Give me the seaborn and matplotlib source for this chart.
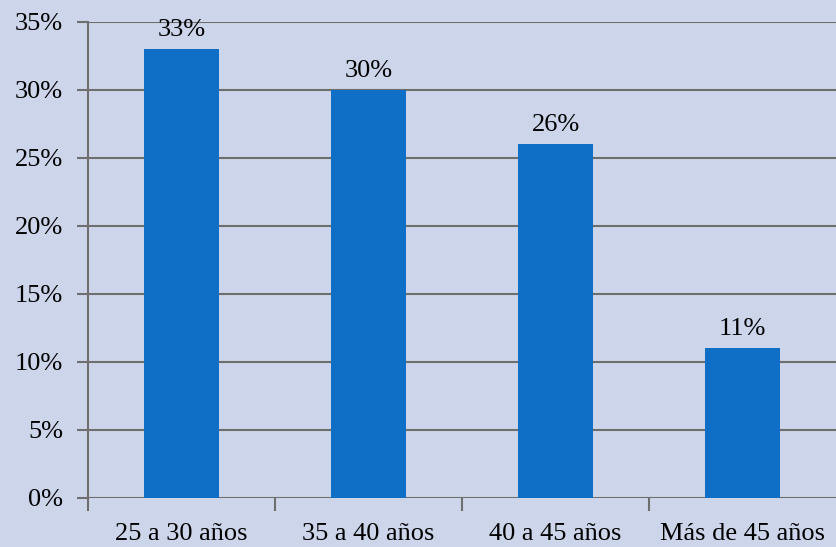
import matplotlib
matplotlib.use("Agg")
import matplotlib.pyplot as plt
import seaborn as sns
import pandas as pd
from matplotlib.ticker import FixedLocator, FuncFormatter

# datos
grupos = ['25 a 30 años', '35 a 40 años', '40 a 45 años', 'Más de 45 años']
valores = [0.33, 0.30, 0.26, 0.11]
etiquetas = ['33%', '30%', '26%', '11%']

df = pd.DataFrame({'grupo': grupos, 'valor': valores})

sns.set_style('white')
plt.rcParams['font.family'] = ['Liberation Serif', 'DejaVu Serif']

fondo = '#CDD5EA'
gris = '#6E6E6E'

fig = plt.figure(figsize=(8.36, 5.47), dpi=100, facecolor=fondo)
ax = fig.add_axes([0.1053, 0.0896, 0.8947, 0.8702])
ax.set_facecolor(fondo)

sns.barplot(data=df, x='grupo', y='valor', color='#0F6FC6', width=0.4,
            saturation=1, linewidth=0, ax=ax, zorder=3)

ax.set_ylim(0, 0.35)
ax.set_xlim(-0.5, 3.5)
ax.set_yticks([0, 0.05, 0.10, 0.15, 0.20, 0.25, 0.30, 0.35])
ax.yaxis.set_major_formatter(FuncFormatter(lambda v, p: f'{round(v*100)}%'))
ax.grid(axis='y', color=gris, linewidth=1.5, zorder=0)
ax.set_axisbelow(True)

ax.xaxis.set_minor_locator(FixedLocator([-0.5, 0.5, 1.5, 2.5]))
ax.tick_params(axis='x', which='major', bottom=True, length=0, pad=18,
               labelsize=19, colors='black')
ax.tick_params(axis='x', which='minor', bottom=True, length=9, width=1.5,
               color=gris, direction='out')
ax.tick_params(axis='y', left=True, length=8, width=1.5, color=gris,
               direction='out', labelsize=19, labelcolor='black', pad=10)

for s in ['top', 'right', 'bottom']:
    ax.spines[s].set_visible(False)
ax.spines['left'].set_color(gris)
ax.spines['left'].set_linewidth(1.5)

for i, (v, t) in enumerate(zip(valores, etiquetas)):
    ax.annotate(t, (i, v), xytext=(0, 6), textcoords='offset points',
                ha='center', va='bottom', fontsize=19, color='black')

ax.set_xlabel('')
ax.set_ylabel('')

fig.savefig('out.png', dpi=100, facecolor=fondo)
